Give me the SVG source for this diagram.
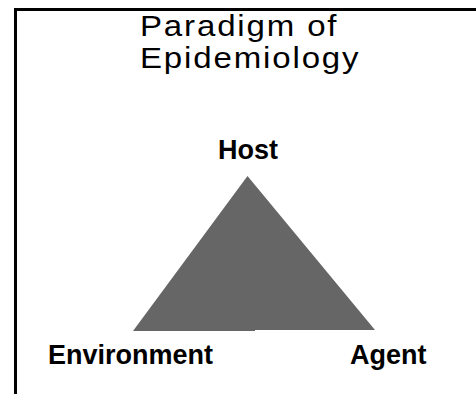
<svg xmlns="http://www.w3.org/2000/svg" width="476" height="394" viewBox="0 0 476 394">
  <style>
    .frame { fill: none; stroke: #000; stroke-width: 3; }
    .title { font-family: "Liberation Sans", Arial, sans-serif; font-size: 30px; letter-spacing: 1.7px; fill: #000; }
    .label { font-family: "Liberation Sans", Arial, sans-serif; font-size: 27px; font-weight: bold; fill: #000; }
  </style>
  <rect width="476" height="394" fill="#fff"/>
  <!-- open frame: top and left edges only -->
  <path class="frame" d="M15.5 394 V9.5 H476"/>
  <!-- title set in a slightly extended face -->
  <g id="title" transform="translate(140 0) scale(1.1 1)">
    <text class="title" x="0" y="36">Paradigm of</text>
    <text class="title" x="0" y="68.5">Epidemiology</text>
  </g>
  <g id="triangle">
    <polygon points="247.5,176 133,331 255,331 255,330 375,330" fill="#666666"/>
  </g>
  <g id="host">
    <text class="label" x="248" y="159" text-anchor="middle">Host</text>
  </g>
  <g id="environment">
    <text class="label" x="48" y="364">Environment</text>
  </g>
  <g id="agent">
    <text class="label" x="350" y="364">Agent</text>
  </g>
  <g id="connectors"/>
</svg>
